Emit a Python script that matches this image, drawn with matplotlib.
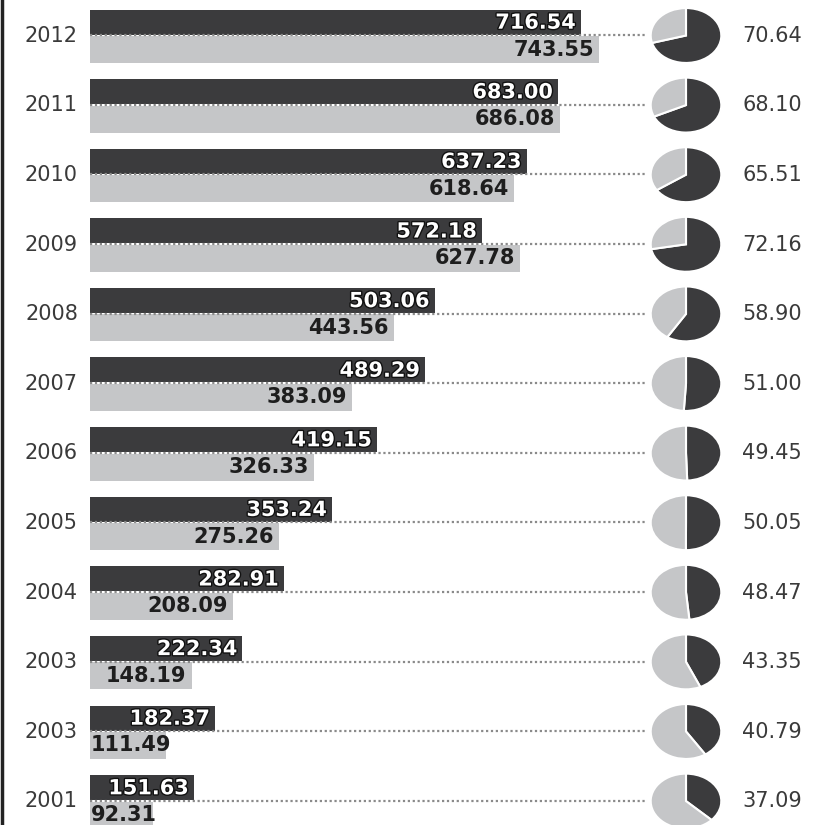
import matplotlib
import matplotlib.pyplot as plt
import matplotlib.patheffects as pe

matplotlib.use("Agg")

# Yearly figures, top row first
years = ["2012", "2011", "2010", "2009", "2008", "2007",
         "2006", "2005", "2004", "2003", "2003", "2001"]
dark_vals = [716.54, 683.00, 637.23, 572.18, 503.06, 489.29,
             419.15, 353.24, 282.91, 222.34, 182.37, 151.63]
light_vals = [743.55, 686.08, 618.64, 627.78, 443.56, 383.09,
              326.33, 275.26, 208.09, 148.19, 111.49, 92.31]
share = [70.64, 68.10, 65.51, 72.16, 58.90, 51.00,
         49.45, 50.05, 48.47, 43.35, 40.79, 37.09]

DARK = "#3b3b3d"
LIGHT = "#c5c6c8"
TEXT = "#3a3a3a"

W, H = 827, 825
fig = plt.figure(figsize=(W / 100, H / 100), dpi=100)

# pixel layout helpers
x0_px = 90          # where bars start
px_per_unit = 0.685
row0_px = 34.5      # boundary line of first row
row_step = 69.6

ax = fig.add_axes([0, 0, 1, 1])
ax.set_xlim(-x0_px / px_per_unit, (W - x0_px) / px_per_unit)
ax.set_ylim((H - row0_px) / row_step, -row0_px / row_step)
ax.axis("off")

n = len(years)
rows = list(range(n))
dark_h = 25 / row_step
light_h = 27 / row_step
gap = 1.5 / row_step

ax.barh([r - dark_h for r in rows], dark_vals, height=dark_h,
        align="edge", color=DARK, zorder=2)
ax.barh([r + gap for r in rows], light_vals, height=light_h,
        align="edge", color=LIGHT, zorder=2)

pie_cx = 686
pie_w, pie_h = 72, 56
line_end = (pie_cx - pie_w / 2 - 4 - x0_px) / px_per_unit
pad = 5 / px_per_unit
bold = dict(fontsize=15, fontweight="bold", va="center")

for r in rows:
    # dotted leader from the bars to the pie
    ax.plot([0, line_end], [r + gap / 2, r + gap / 2], color="#8a8a8a",
            lw=1.6, linestyle=(0, (1, 1.2)), zorder=3)

    ax.text(-12 / px_per_unit, r + 0.02, years[r], ha="right", va="center",
            fontsize=15, color=TEXT)

    dv = dark_vals[r]
    ax.text(dv - pad, r - dark_h / 2 + 0.01, f"{dv:.2f}", ha="right",
            color="white", zorder=4,
            path_effects=[pe.withStroke(linewidth=2, foreground="#111111")],
            **bold)

    lv = light_vals[r]
    if lv < 140:
        ax.text(1, r + gap + light_h / 2, f"{lv:.2f}", ha="left",
                color="#1e1e1e", zorder=4, **bold)
    else:
        ax.text(lv - pad, r + gap + light_h / 2, f"{lv:.2f}", ha="right",
                color="#1e1e1e", zorder=4, **bold)

    ax.text((742 - x0_px) / px_per_unit, r + 0.02, f"{share[r]:.2f}",
            ha="left", va="center", fontsize=15, color=TEXT)

    # small pie for the share
    cy = row0_px + row_step * r + 1
    pax = fig.add_axes([(pie_cx - pie_w / 2) / W, 1 - (cy + pie_h / 2) / H,
                        pie_w / W, pie_h / H])
    pax.pie([share[r], 100 - share[r]], colors=[DARK, LIGHT], startangle=90,
            counterclock=False,
            wedgeprops=dict(edgecolor="white", linewidth=1.5))
    pax.set_xlim(-1.02, 1.02)
    pax.set_ylim(-1.02, 1.02)
    pax.set_aspect("auto")
    pax.axis("off")

# thin frame line on the left edge
ax.axvline(-x0_px / px_per_unit + 1.5 / px_per_unit, color="#222222", lw=2.5)

fig.savefig("out.png", dpi=100)
